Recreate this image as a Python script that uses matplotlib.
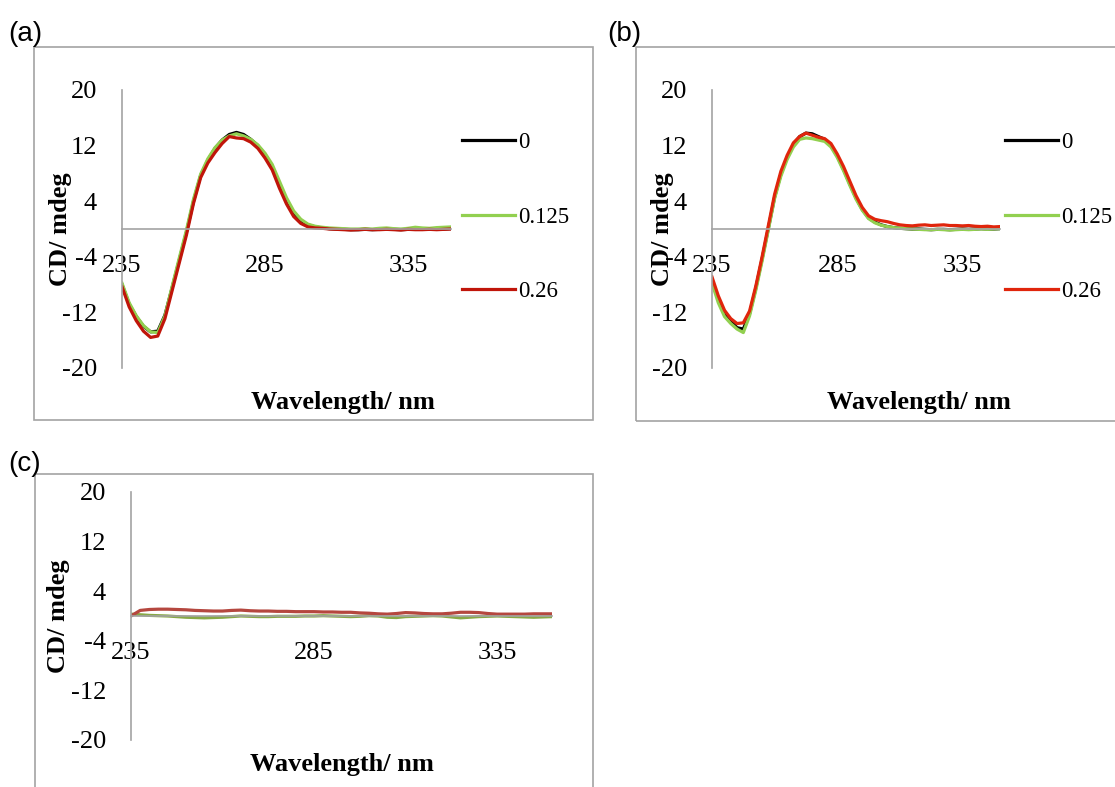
import numpy as np
import matplotlib
matplotlib.use("Agg")
import matplotlib.pyplot as plt
from matplotlib.patches import Rectangle

plt.rcParams['font.family'] = ['Liberation Serif', 'DejaVu Serif']

# CD spectra, 235-350 nm every 2.5 nm
wavelength = np.arange(235, 350.1, 2.5)

conc_labels = ["0", "0.125", "0.26"]

a_0 = [-8.0, -10.8, -12.6, -14.0, -14.8, -14.7, -12.4, -8.5, -4.5, -0.5,
       4.0, 7.7, 9.9, 11.6, 12.8, 13.6, 13.9, 13.6, 12.9, 12.0,
       10.7, 9.0, 6.5, 4.1, 2.3, 1.2, 0.6, 0.3, 0.15,
       0.05, 0.0, -0.05, -0.1, -0.1, -0.05, -0.1, -0.05, 0.0, -0.05,
       -0.1, -0.05, 0.0, 0.05, 0.0, -0.05, 0.0, 0.05]
a_0125 = [-7.8, -10.6, -12.5, -13.9, -14.8, -14.9, -12.5, -8.3, -4.2, -0.2,
          4.3, 7.9, 10.1, 11.7, 12.8, 13.4, 13.7, 13.4, 12.9, 12.1,
          10.9, 9.3, 6.9, 4.5, 2.6, 1.4, 0.7, 0.4, 0.25,
          0.15, 0.1, 0.05, 0.0, 0.0, 0.05, 0.0, 0.1, 0.15, 0.05,
          0.0, 0.1, 0.25, 0.15, 0.1, 0.2, 0.25, 0.3]
a_026 = [-8.3, -11.2, -13.2, -14.7, -15.6, -15.4, -12.9, -8.9, -4.9, -0.9,
         3.7, 7.4, 9.5, 11.0, 12.3, 13.3, 13.1, 13.0, 12.5, 11.6,
         10.2, 8.5, 5.9, 3.6, 1.8, 0.8, 0.3, 0.15, 0.1,
         0.0, -0.05, -0.1, -0.15, -0.1, -0.05, -0.1, -0.1, -0.05, -0.1,
         -0.15, -0.05, -0.1, -0.1, -0.05, -0.1, -0.05, 0.0]

b_0 = [-7.4, -10.2, -12.2, -13.3, -14.2, -14.4, -12.2, -8.5, -4.3, 0.1,
       4.6, 7.9, 10.3, 12.2, 13.3, 13.8, 13.7, 13.3, 12.9, 12.0,
       10.5, 8.6, 6.5, 4.5, 2.8, 1.6, 1.0, 0.6, 0.35, 0.2, 0.1,
       0.05, 0.0, 0.0, -0.05, -0.1, -0.05, -0.05, -0.1, -0.05, 0.0,
       -0.05, 0.0, 0.05, 0.0, 0.0, 0.05]
b_0125 = [-7.8, -10.6, -12.6, -13.6, -14.4, -14.9, -12.5, -8.8, -4.6, -0.1,
          4.4, 7.6, 10.0, 11.8, 12.9, 13.1, 13.0, 12.8, 12.6, 11.8,
          10.3, 8.4, 6.3, 4.3, 2.7, 1.5, 0.9, 0.55, 0.35, 0.2, 0.1,
          0.05, 0.0, -0.05, -0.1, -0.1, -0.05, -0.1, -0.15, -0.1, -0.05,
          -0.1, -0.05, 0.0, -0.05, 0.0, 0.05]
b_026 = [-6.9, -9.6, -11.7, -12.9, -13.6, -13.5, -11.8, -8.2, -4.0, 0.5,
         5.0, 8.3, 10.6, 12.4, 13.3, 13.8, 13.5, 13.2, 13.0, 12.3,
         10.8, 9.0, 6.9, 4.8, 3.1, 1.9, 1.4, 1.2, 1.05, 0.8, 0.6,
         0.5, 0.45, 0.55, 0.6, 0.5, 0.55, 0.6, 0.5, 0.5, 0.45,
         0.5, 0.4, 0.35, 0.4, 0.3, 0.35]

c_0125 = [0.3, 0.2, 0.1, 0.05, 0.0, -0.1, -0.2, -0.25, -0.3, -0.25,
          -0.2, -0.1, 0.0, -0.05, -0.1, -0.1, -0.05, -0.05, -0.05, 0.0,
          0.0, 0.05, 0.0, -0.05, -0.1, -0.05, 0.05, 0.0, -0.2, -0.25,
          -0.1, -0.05, 0.0, 0.05, 0.0, -0.15, -0.3, -0.2, -0.1, -0.05,
          0.0, -0.05, -0.1, -0.15, -0.2, -0.15, -0.1]
c_026 = [0.0, 0.9, 1.05, 1.1, 1.1, 1.05, 1.0, 0.9, 0.85, 0.8,
         0.8, 0.9, 0.95, 0.85, 0.8, 0.8, 0.75, 0.75, 0.7, 0.7,
         0.7, 0.65, 0.65, 0.6, 0.6, 0.5, 0.45, 0.35, 0.3, 0.4,
         0.55, 0.5, 0.4, 0.35, 0.35, 0.45, 0.6, 0.6, 0.55, 0.4,
         0.3, 0.3, 0.3, 0.3, 0.35, 0.35, 0.35]

yticks = [-20, -12, -4, 4, 12, 20]
xticks = [235, 285, 335]

W, H = 1115, 787
gray = "#a3a3a3"

fig = plt.figure(figsize=(W / 100, H / 100), dpi=100)


def fx(x):
    return x / W


def fy(y):
    return 1 - y / H


def frame(x0, y0, x1, y1):
    fig.add_artist(Rectangle((fx(x0), fy(y1)), fx(x1 - x0), (y1 - y0) / H,
                             transform=fig.transFigure, fill=False,
                             edgecolor=gray, linewidth=1.2))


def panel(left, top, right, bottom, series, colors):
    ax = fig.add_axes([fx(left), fy(bottom), fx(right - left), (bottom - top) / H])
    for vals, col, lab in zip(series, colors, conc_labels):
        ax.plot(wavelength, vals, color=col, lw=2.3, label=lab)
    ax.set_xlim(235, 350)
    ax.set_ylim(-20, 20)
    ax.set_xticks(xticks)
    ax.set_yticks(yticks)
    ax.set_yticklabels([str(t) for t in yticks])
    ax.spines['bottom'].set_position(('data', 0))
    ax.spines['top'].set_visible(False)
    ax.spines['right'].set_visible(False)
    for s in ['left', 'bottom']:
        ax.spines[s].set_color(gray)
        ax.spines[s].set_linewidth(1.2)
    ax.tick_params(axis='y', length=0, pad=18, labelsize=19)
    ax.tick_params(axis='x', length=0, pad=19, labelsize=19)
    ax.patch.set_visible(False)
    return ax


# (a)
frame(34, 47, 593, 420)
ax_a = panel(122, 90, 451, 368, [a_0, a_0125, a_026], ["black", "#92d050", "#c0150a"])
# (b)
frame(636, 47, 1130, 421)
ax_b = panel(712, 90, 1000, 368, [b_0, b_0125, b_026], ["black", "#92d050", "#e0250c"])
# (c)
frame(35, 474, 593, 800)
ax_c = panel(131, 492, 552, 740, [c_0125, c_026], ["#88a946", "#b5473f"])

for ax, lx in [(ax_a, 462), (ax_b, 1005)]:
    ax.legend(loc='center left', bbox_to_anchor=(fx(lx), fy(217)),
              bbox_transform=fig.transFigure, frameon=False, fontsize=16.5,
              borderpad=0, borderaxespad=0, handlelength=2.3,
              handletextpad=0.17, labelspacing=2.35)

# axis titles
for x, y in [(60, 229), (662, 229), (59, 616)]:
    fig.text(fx(x), fy(y), "CD/ mdeg", rotation=90, ha='center', va='center',
             fontsize=19, fontweight='bold')
for x, y in [(343, 403), (919, 403), (342, 764)]:
    fig.text(fx(x), fy(y), "Wavelength/ nm", ha='center', va='center',
             fontsize=19, fontweight='bold')

# panel letters
for x, y, s in [(8, 34, "(a)"), (607, 34, "(b)"), (8, 464, "(c)")]:
    fig.text(fx(x), fy(y), s, ha='left', va='center', fontsize=20,
             family='Liberation Sans')

fig.savefig("out.png", dpi=100)
